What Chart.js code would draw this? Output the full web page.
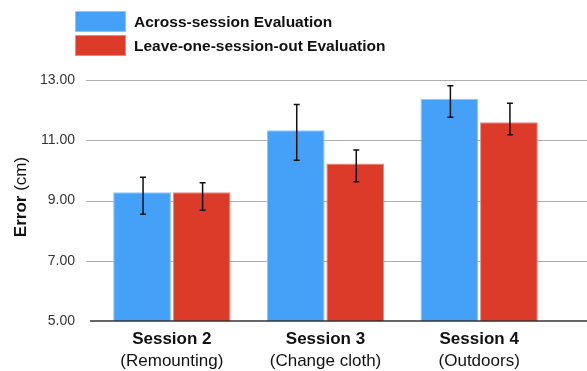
<!DOCTYPE html>
<html lang="en">
<head>
<meta charset="UTF-8">
<title>Error by session</title>
<script src="https://cdn.jsdelivr.net/npm/chart.js"></script>
<style>
  html, body { margin: 0; padding: 0; background: #fff; }
  #wrap { position: relative; width: 587px; height: 371px; }
  #legend {
    position: absolute; left: 75px; top: 11px;
    font-family: "Liberation Sans", Arial, sans-serif;
    font-weight: bold; font-size: 15.5px; color: #111;
  }
  .item { display: flex; align-items: flex-start; height: 24px; }
  .box { width: 49px; height: 19px; margin-right: 8px; border: 1px solid; }
  .item span { line-height: 21px; }
</style>
</head>
<body>
<div id="wrap">
  <canvas id="myChart" width="587" height="371"></canvas>
  <div id="legend"></div>
</div>
<script>
  // data
  const categories = ['Session 2', 'Session 3', 'Session 4'];
  const conditions = ['(Remounting)', '(Change cloth)', '(Outdoors)'];
  const yTicks = [5, 7, 9, 11, 13];

  const acrossSession = [9.27, 11.33, 12.38];
  const acrossLow = [8.54, 10.34, 11.76];
  const acrossHigh = [9.77, 12.19, 12.81];

  const leaveOneOut = [9.27, 10.23, 11.60];
  const leaveLow = [8.68, 9.62, 11.18];
  const leaveHigh = [9.59, 10.68, 12.23];

  const FONT = '"Liberation Sans", Arial, sans-serif';

  // grid lines, axis line, error bars and the y title
  const extras = {
    id: 'extras',
    beforeDatasetsDraw(chart) {
      const ctx = chart.ctx, y = chart.scales.y;
      ctx.save();
      ctx.strokeStyle = '#adadad';
      ctx.lineWidth = 1;
      yTicks.forEach(v => {
        if (v === yTicks[0]) return;
        const py = Math.round(y.getPixelForValue(v)) + 0.5;
        ctx.beginPath();
        ctx.moveTo(86, py);
        ctx.lineTo(587, py);
        ctx.stroke();
      });
      ctx.restore();
    },
    afterDatasetsDraw(chart) {
      const ctx = chart.ctx, y = chart.scales.y;
      ctx.save();
      // bottom axis
      const base = Math.round(y.getPixelForValue(yTicks[0]));
      ctx.strokeStyle = '#333';
      ctx.lineWidth = 1.5;
      ctx.beginPath();
      ctx.moveTo(90, base);
      ctx.lineTo(587, base);
      ctx.stroke();
      // error bars
      ctx.strokeStyle = '#111';
      ctx.lineWidth = 1.5;
      chart.data.datasets.forEach((ds, i) => {
        chart.getDatasetMeta(i).data.forEach((bar, j) => {
          const x = bar.x + 1;
          const yl = y.getPixelForValue(ds.errLow[j]);
          const yh = y.getPixelForValue(ds.errHigh[j]);
          ctx.beginPath();
          ctx.moveTo(x, yl); ctx.lineTo(x, yh);
          ctx.moveTo(x - 3, yl); ctx.lineTo(x + 3, yl);
          ctx.moveTo(x - 3, yh); ctx.lineTo(x + 3, yh);
          ctx.stroke();
        });
      });
      ctx.restore();
    },
    afterDraw(chart) {
      const ctx = chart.ctx;
      ctx.save();
      ctx.translate(21, 197);
      ctx.rotate(-Math.PI / 2);
      ctx.fillStyle = '#111';
      ctx.textBaseline = 'middle';
      ctx.font = 'bold 17px ' + FONT;
      const w1 = ctx.measureText('Error').width;
      ctx.font = '17px ' + FONT;
      const w2 = ctx.measureText(' (cm)').width;
      const start = -(w1 + w2) / 2;
      ctx.font = 'bold 17px ' + FONT;
      ctx.fillText('Error', start, 0);
      ctx.font = '17px ' + FONT;
      ctx.fillText(' (cm)', start + w1, 0);
      ctx.restore();
    }
  };

  const ctx = document.getElementById('myChart').getContext('2d');
  const myChart = new Chart(ctx, {
    type: 'bar',
    data: {
      labels: categories,
      datasets: [{
        label: 'Across-session Evaluation',
        data: acrossSession,
        errLow: acrossLow,
        errHigh: acrossHigh,
        backgroundColor: '#45a1f7',
        borderColor: '#8cc6fb',
        borderWidth: 1
      }, {
        label: 'Leave-one-session-out Evaluation',
        data: leaveOneOut,
        errLow: leaveLow,
        errHigh: leaveHigh,
        backgroundColor: '#db3b28',
        borderColor: '#e98a7e',
        borderWidth: 1
      }]
    },
    options: {
      responsive: false,
      animation: false,
      categoryPercentage: 0.775,
      barPercentage: 0.97,
      layout: { padding: { top: 80, right: 31, bottom: 1, left: 0 } },
      plugins: { legend: { display: false }, tooltip: { enabled: false } },
      scales: {
        y: {
          min: 5, max: 13,
          afterBuildTicks: s => { s.ticks = yTicks.map(v => ({ value: v })); },
          afterFit: s => { s.width = 95; },
          grid: { display: false, drawTicks: false },
          border: { display: false },
          ticks: {
            padding: 20, color: '#333',
            font: { family: FONT, size: 14 },
            callback: v => Number(v).toFixed(2)
          }
        },
        x: {
          position: 'bottom',
          afterFit: s => { s.height = 28; },
          grid: { display: false, drawTicks: false },
          border: { display: false },
          ticks: { padding: 8, color: '#111', maxRotation: 0, font: { family: FONT, size: 17, weight: 'bold' } }
        },
        x2: {
          type: 'category',
          labels: conditions,
          position: 'bottom',
          afterFit: s => { s.height = 21; },
          grid: { display: false, drawTicks: false },
          border: { display: false },
          ticks: { padding: 2, color: '#111', maxRotation: 0, font: { family: FONT, size: 17 } }
        }
      }
    },
    plugins: [extras]
  });

  // legend built from the datasets
  const legend = document.getElementById('legend');
  myChart.data.datasets.forEach(ds => {
    const item = document.createElement('div');
    item.className = 'item';
    const box = document.createElement('div');
    box.className = 'box';
    box.style.background = ds.backgroundColor;
    box.style.borderColor = ds.borderColor;
    const text = document.createElement('span');
    text.textContent = ds.label;
    item.appendChild(box);
    item.appendChild(text);
    legend.appendChild(item);
  });
</script>
</body>
</html>
